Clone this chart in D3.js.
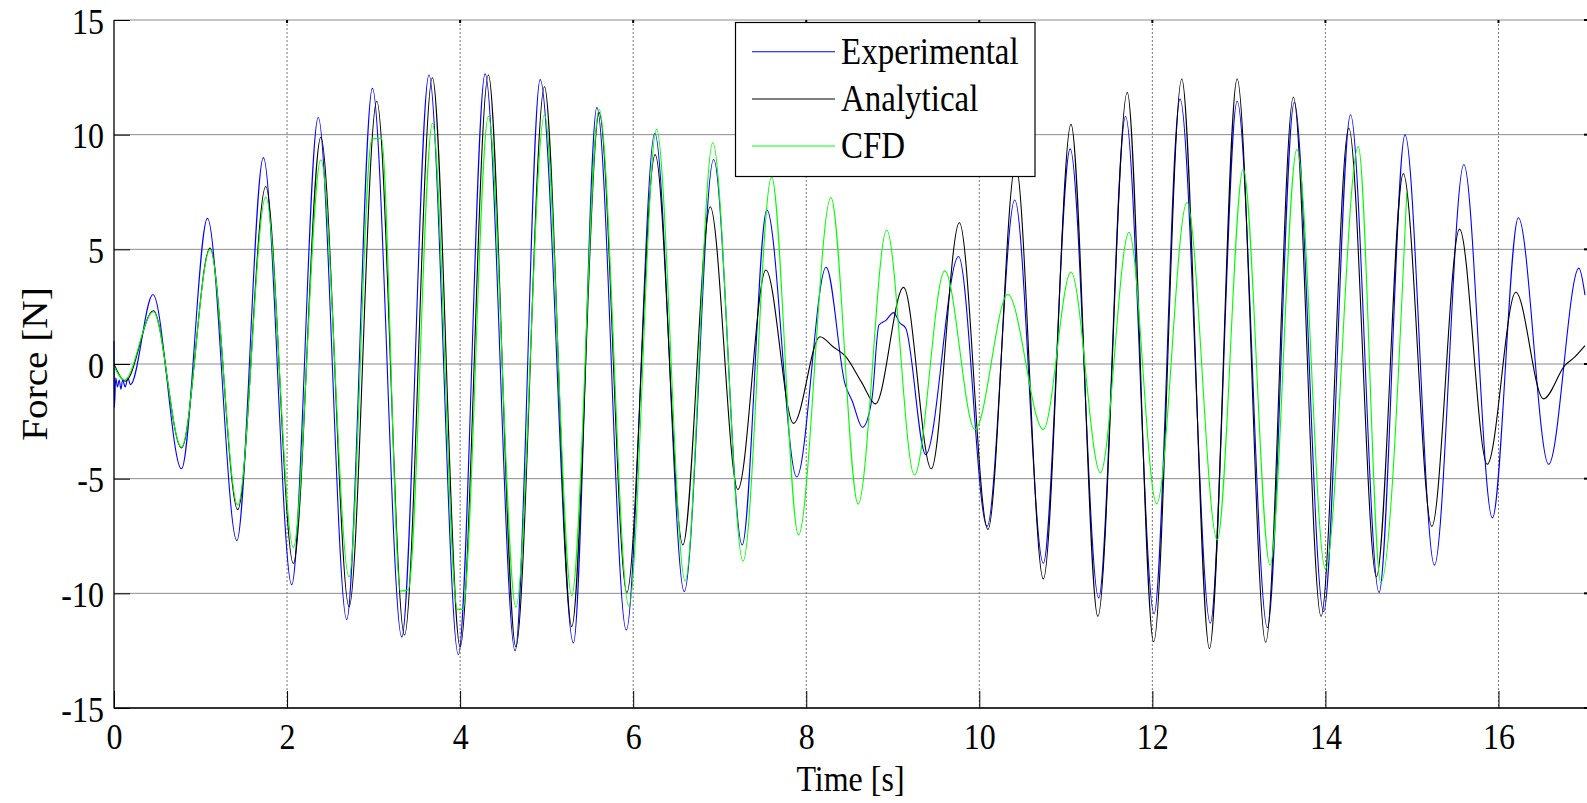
<!DOCTYPE html>
<html><head><meta charset="utf-8">
<script src="https://cdn.jsdelivr.net/npm/d3@7"></script>
<style>html,body{margin:0;padding:0;background:#fff;overflow:hidden}</style>
</head><body>
<svg id="chart" width="1587" height="803"></svg>
<script>
// ---------- data ----------
const xTicks = [0, 2, 4, 6, 8, 10, 12, 14, 16];
const yTicks = [-15, -10, -5, 0, 5, 10, 15];
const seriesNames = ["Experimental", "Analytical", "CFD"];
const seriesColors = ["#0000ff", "#000000", "#00ff00"];

const expT = [0, 0.005, 0.02, 0.04, 0.06, 0.08, 0.1, 0.13, 0.16, 0.19, 0.45, 0.78, 1.08, 1.42, 1.726, 2.054, 2.36, 2.69, 2.986, 3.326, 3.64, 3.98, 4.289, 4.636, 4.925, 5.31, 5.58, 5.92, 6.25, 6.59, 6.93, 7.26, 7.545, 7.89, 8.23, 8.45, 8.53, 8.65, 8.76, 8.84, 8.92, 9.01, 9.08, 9.15, 9.38, 9.76, 10.09, 10.41, 10.74, 11.05, 11.38, 11.69, 12.02, 12.32, 12.67, 12.98, 13.33, 13.64, 13.98, 14.29, 14.62, 14.92, 15.26, 15.6, 15.93, 16.23, 16.58, 16.93, 17.0];
const expF = [1.0, -1.9, -0.6, -1.0, -0.7, -1.1, -0.7, -1.0, -0.6, -0.9, 3.03, -4.57, 6.35, -7.7, 9.0, -9.62, 10.75, -11.14, 12.02, -11.9, 12.6, -12.67, 12.65, -12.5, 12.4, -12.16, 11.18, -11.6, 10.06, -9.92, 8.92, -7.89, 6.72, -4.93, 4.22, -0.9, -1.6, -2.76, -1.5, 1.7, 1.9, 2.24, 1.8, 1.56, -3.95, 4.69, -7.08, 7.15, -8.69, 9.38, -10.2, 10.79, -10.89, 11.55, -11.3, 11.46, -11.5, 11.4, -10.8, 10.87, -9.96, 9.99, -8.77, 8.7, -6.71, 6.38, -4.37, 4.18, 3.0];

const anaT = [0, 0.13, 0.455, 0.78, 1.11, 1.43, 1.754, 2.073, 2.39, 2.717, 3.037, 3.357, 3.68, 4.0, 4.327, 4.644, 4.975, 5.29, 5.607, 5.927, 6.254, 6.574, 6.89, 7.21, 7.534, 7.853, 8.16, 8.31, 8.45, 8.64, 8.8, 9.125, 9.445, 9.77, 10.1, 10.42, 10.74, 11.06, 11.37, 11.71, 12.015, 12.34, 12.66, 12.98, 13.31, 13.63, 13.95, 14.27, 14.59, 14.9, 15.23, 15.55, 15.87, 16.2, 16.52, 16.77, 16.88, 17.0];
const anaF = [0, -0.75, 2.32, -3.66, 5.06, -6.35, 7.74, -8.7, 9.89, -10.58, 11.46, -11.82, 12.48, -12.33, 12.6, -12.33, 12.09, -11.45, 10.96, -9.96, 9.13, -7.89, 6.86, -5.47, 4.1, -2.59, 1.19, 0.75, 0.35, -0.8, -1.74, 3.34, -4.57, 6.16, -7.21, 8.7, -9.37, 10.45, -11.0, 11.84, -12.11, 12.43, -12.41, 12.43, -12.13, 11.63, -11.0, 10.28, -9.28, 8.3, -7.08, 5.88, -4.37, 3.13, -1.52, -0.05, 0.3, 0.8];

const cfdT = [0, 0.12, 0.455, 0.78, 1.11, 1.43, 1.754, 2.073, 2.39, 2.717, 2.98, 3.09, 3.31, 3.4, 3.68, 3.97, 4.03, 4.327, 4.644, 4.975, 5.29, 5.607, 5.95, 6.27, 6.6, 6.92, 7.27, 7.6, 7.91, 8.285, 8.6, 8.93, 9.25, 9.6, 9.95, 10.33, 10.74, 11.06, 11.4, 11.73, 12.05, 12.4, 12.75, 13.05, 13.36, 13.67, 14.0, 14.38, 14.64, 14.94];
const cfdF = [-0.1, -0.7, 2.28, -3.62, 5.0, -6.15, 7.28, -8.0, 8.9, -9.28, 9.8, 9.85, -9.9, -9.85, 10.5, -10.7, -10.7, 10.8, -10.6, 10.87, -10.1, 11.1, -10.55, 10.23, -9.45, 9.65, -8.6, 8.16, -7.45, 7.26, -6.11, 5.84, -4.84, 4.06, -2.85, 3.03, -2.85, 4.01, -4.74, 5.74, -6.1, 7.04, -7.67, 8.5, -8.77, 9.35, -8.94, 9.48, -9.53, 7.49];

const xLabel = "Time [s]";
const yLabel = "Force [N]";

// ---------- layout ----------
const W = 1587, H = 803;
const L = 114, R = 1585, T = 20, B = 708;
const FONT = "'Liberation Serif', 'Times New Roman', serif";
const FS = 32, SY = 1.12;

const svg = d3.select("#chart");
const x = d3.scaleLinear().domain([0, 17]).range([L, R]);
const y = d3.scaleLinear().domain([-15, 15]).range([B, T]);
const fmt = d => String(d);

// grid
svg.append("g").selectAll("line").data(yTicks).join("line")
  .attr("x1", L).attr("x2", W).attr("y1", d => y(d)).attr("y2", d => y(d))
  .attr("stroke", "#8c8c8c").attr("stroke-width", 1);
svg.append("g").selectAll("line").data(xTicks.filter(d => d > 0)).join("line")
  .attr("x1", d => x(d)).attr("x2", d => x(d)).attr("y1", T).attr("y2", B)
  .attr("stroke", "#777").attr("stroke-width", 1).attr("stroke-dasharray", "2,2");

// series
const series = [
  d3.zip(expT, expF),
  d3.zip(anaT, anaF),
  d3.zip(cfdT, cfdF)
];
const line = d3.line().x(d => x(d[0])).y(d => y(d[1])).curve(d3.curveMonotoneX);
const plot = svg.append("g");
series.forEach((s, i) => {
  plot.append("path").datum(s).attr("d", line)
    .attr("fill", "none").attr("stroke", seriesColors[i]).attr("stroke-width", 1.1)
    .attr("stroke-linejoin", "round");
});

// axes
const gx = svg.append("g").attr("transform", `translate(0,${B})`)
  .call(d3.axisBottom(x).tickValues(xTicks).tickSizeInner(-17).tickSizeOuter(0).tickFormat(fmt));
gx.select(".domain").remove();
gx.selectAll(".tick line").attr("stroke", "#000");
gx.selectAll("text").attr("y", 0).attr("dy", null)
  .attr("dominant-baseline", "central")
  .attr("transform", `translate(0,29) scale(1,${SY})`)
  .style("font-family", FONT).style("font-size", FS + "px").attr("fill", "#000");

const gy = svg.append("g").attr("transform", `translate(${L},0)`)
  .call(d3.axisLeft(y).tickValues(yTicks).tickSizeInner(-16).tickSizeOuter(0).tickFormat(fmt));
gy.select(".domain").remove();
gy.selectAll(".tick line").attr("stroke", "#000");
gy.selectAll("text").attr("x", 0).attr("dy", null)
  .attr("dominant-baseline", "central")
  .attr("transform", `translate(-10,1) scale(1,${SY})`)
  .style("font-family", FONT).style("font-size", FS + "px").attr("fill", "#000");

// small top / right ticks
svg.append("g").selectAll("line").data(xTicks.filter(d => d > 0)).join("line")
  .attr("x1", d => x(d)).attr("x2", d => x(d)).attr("y1", T).attr("y2", T + 3)
  .attr("stroke", "#000").attr("stroke-width", 2);
svg.append("g").selectAll("line").data(yTicks).join("line")
  .attr("x1", W - 3).attr("x2", W).attr("y1", d => y(d)).attr("y2", d => y(d))
  .attr("stroke", "#000").attr("stroke-width", 2);

// axis lines
svg.append("line").attr("x1", L).attr("x2", L).attr("y1", T).attr("y2", B + 0.5)
  .attr("stroke", "#000").attr("stroke-width", 1.3);
svg.append("line").attr("x1", L).attr("x2", W).attr("y1", B).attr("y2", B)
  .attr("stroke", "#000").attr("stroke-width", 1.3);

// axis titles
svg.append("text").text(xLabel)
  .attr("text-anchor", "middle").attr("dominant-baseline", "central")
  .attr("transform", `translate(${(L + W) / 2},779) scale(1,${SY})`)
  .style("font-family", FONT).style("font-size", FS + "px");
svg.append("text").text(yLabel)
  .attr("text-anchor", "middle").attr("dominant-baseline", "central")
  .attr("transform", `translate(35,${(T + B) / 2}) scale(1,${SY}) rotate(-90)`)
  .style("font-family", FONT).style("font-size", "35px");

// legend
const lg = svg.append("g");
lg.append("rect").attr("x", 735.5).attr("y", 22.5).attr("width", 299.5).attr("height", 154)
  .attr("fill", "#fff").attr("stroke", "#000").attr("stroke-width", 1.2);
const rowY = [51.7, 99, 146];
seriesNames.forEach((n, i) => {
  lg.append("line").attr("x1", 752).attr("x2", 835).attr("y1", rowY[i]).attr("y2", rowY[i])
    .attr("stroke", seriesColors[i]).attr("stroke-width", 1.1);
  lg.append("text").text(n)
    .attr("dominant-baseline", "central")
    .attr("transform", `translate(841,${rowY[i]}) scale(1,${SY})`)
    .style("font-family", FONT).style("font-size", "33px");
});
</script>
</body></html>
